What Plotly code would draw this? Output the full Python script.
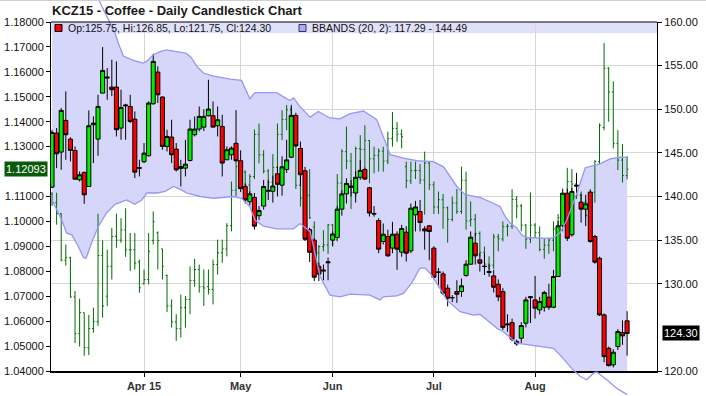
import plotly.graph_objects as go

# ---------------- data ----------------
month_ticks = [20, 41, 61, 83, 105]
month_labels = ["Apr 15", "May", "Jun", "Jul", "Aug"]

kc_open = [141.07, 147.27, 145.09, 148.72, 146.58, 145.28, 141.92, 142.76, 141.15, 148.22,
           146.58, 151.85, 153.70, 152.54, 152.54, 147.84, 150.50, 150.32, 148.87, 143.30,
           143.98, 144.67, 150.63, 154.26, 151.40, 145.74, 146.81, 145.43, 143.22, 143.25,
           144.13, 147.08, 147.73, 147.95, 149.25, 149.25, 148.11, 148.03, 144.21, 144.78,
           146.10, 144.10, 141.15, 139.40, 139.90, 137.80, 138.90, 140.60, 140.60, 142.60,
           141.30, 143.10, 144.50, 149.30, 145.50, 142.95, 136.20, 135.00, 132.00, 131.45,
           132.40, 135.00, 135.30, 138.55, 140.30, 141.20, 140.40, 142.20, 143.10, 141.00,
           138.05, 137.25, 134.84, 135.42, 134.08, 135.68, 133.62, 135.91, 133.77, 137.90,
           138.28, 136.29, 136.64, 134.08, 131.30, 131.13, 129.49, 128.42, 129.11, 129.11,
           130.94, 132.24, 134.65, 132.74, 131.97, 131.40, 130.90, 129.95, 129.10, 125.40,
           125.55, 123.37, 123.76, 125.48, 128.40, 128.15, 127.00, 127.31, 128.46, 127.31,
           130.83, 136.64, 140.38, 135.61, 141.30, 139.35, 138.55, 140.50, 135.42, 132.93,
           126.43, 122.60, 120.70, 122.80, 124.41, 125.75]
kc_high = [147.65, 147.84, 150.13, 152.05, 146.80, 145.74, 142.87, 142.87, 149.87, 149.18,
           151.66, 157.13, 154.72, 155.68, 155.49, 152.24, 150.63, 151.66, 149.75, 144.21,
           146.12, 150.90, 156.36, 154.91, 151.47, 147.65, 148.80, 146.12, 144.21, 146.50,
           148.80, 149.18, 150.32, 150.00, 153.38, 150.90, 150.32, 149.37, 145.74, 145.74,
           149.90, 145.30, 141.50, 140.60, 140.40, 138.90, 141.90, 141.90, 142.40, 143.50,
           144.60, 146.50, 150.50, 149.60, 146.30, 143.40, 136.40, 135.20, 132.40, 132.20,
           133.00, 136.00, 138.90, 140.70, 142.10, 141.90, 142.90, 144.20, 143.30, 141.10,
           138.90, 137.50, 136.90, 136.20, 137.10, 136.00, 136.75, 136.60, 139.20, 139.50,
           139.60, 136.60, 136.70, 134.30, 131.80, 131.40, 129.90, 128.70, 130.40, 130.60,
           132.70, 136.00, 135.80, 133.50, 133.50, 132.20, 131.60, 130.50, 129.50, 126.50,
           126.00, 123.60, 125.60, 128.50, 128.60, 130.90, 128.50, 129.20, 130.00, 131.60,
           137.20, 140.90, 140.90, 141.00, 142.70, 140.30, 140.20, 140.70, 135.60, 133.10,
           126.60, 122.80, 122.50, 124.80, 125.80, 126.85]
kc_low = [140.96, 143.25, 143.06, 144.21, 144.02, 141.92, 141.72, 139.16, 141.15, 143.83,
          144.67, 151.85, 151.09, 151.50, 146.88, 146.50, 146.50, 148.41, 142.11, 142.30,
          143.83, 144.59, 150.52, 150.71, 145.36, 145.16, 143.83, 142.87, 141.15, 142.30,
          144.02, 146.88, 147.46, 147.50, 149.18, 147.95, 146.88, 142.30, 144.21, 144.21,
          144.00, 140.50, 139.20, 139.00, 136.20, 137.30, 138.50, 139.60, 139.30, 140.00,
          140.10, 142.70, 144.40, 145.70, 141.20, 134.90, 132.50, 130.30, 130.30, 130.40,
          130.40, 134.30, 135.20, 137.80, 139.20, 140.00, 139.30, 141.90, 141.90, 137.70,
          137.70, 133.50, 134.50, 133.10, 133.50, 131.60, 133.10, 132.55, 133.50, 136.00,
          136.00, 133.90, 132.70, 130.60, 129.70, 128.70, 127.40, 127.90, 127.80, 128.50,
          130.80, 132.20, 132.20, 131.40, 131.00, 130.80, 129.00, 128.00, 124.70, 124.50,
          123.40, 122.90, 123.20, 125.00, 125.50, 126.00, 126.50, 126.80, 127.00, 127.20,
          130.80, 136.50, 134.90, 135.40, 140.00, 137.00, 136.60, 134.70, 132.30, 126.30,
          121.00, 120.50, 120.40, 122.40, 123.00, 121.75]
kc_close = [147.34, 144.90, 149.87, 147.08, 145.28, 141.99, 142.49, 140.19, 148.11, 148.41,
            150.32, 154.45, 153.60, 152.24, 147.65, 150.21, 150.40, 148.60, 142.79, 143.25,
            144.97, 150.71, 155.49, 151.66, 145.74, 146.88, 144.78, 143.06, 143.44, 143.71,
            147.73, 147.73, 149.18, 149.18, 150.02, 147.95, 148.80, 143.83, 145.36, 145.55,
            144.10, 140.90, 139.60, 140.30, 136.60, 138.40, 141.15, 140.70, 141.20, 141.40,
            143.40, 144.20, 149.30, 145.80, 142.50, 135.10, 133.60, 130.75, 131.10, 131.55,
            132.50, 135.70, 138.55, 140.30, 141.50, 141.05, 142.20, 143.00, 142.00, 138.10,
            138.00, 133.96, 135.68, 133.20, 135.68, 133.96, 136.33, 133.50, 138.66, 138.80,
            137.02, 136.06, 135.99, 130.75, 131.35, 128.92, 128.34, 128.40, 128.80, 129.76,
            132.24, 135.34, 133.20, 132.36, 132.00, 131.30, 129.60, 128.50, 125.00, 125.30,
            123.64, 123.11, 125.21, 128.15, 128.50, 127.20, 127.96, 128.99, 127.31, 130.83,
            136.64, 140.38, 135.22, 140.57, 141.20, 138.55, 139.16, 134.84, 132.47, 126.43,
            121.65, 120.62, 122.15, 124.52, 124.02, 124.30]

eur_open = [1.1110, 1.1075, 1.1031, 1.0844, 1.0854, 1.0697, 1.0550, 1.0634, 1.0494, 1.0570,
            1.0598, 1.0863, 1.0700, 1.0820, 1.0940, 1.0925, 1.0966, 1.0886, 1.0887, 1.0837,
            1.0750, 1.0767, 1.0924, 1.0955, 1.0890, 1.0783, 1.0661, 1.0597, 1.0570, 1.0654,
            1.0687, 1.0763, 1.0807, 1.0738, 1.0738, 1.0727, 1.0827, 1.0874, 1.0890, 1.0983,
            1.1125, 1.1220, 1.1198, 1.1146, 1.1180, 1.1349, 1.1267, 1.1202, 1.1157, 1.1217,
            1.1349, 1.1409, 1.1448, 1.1316, 1.1145, 1.1093, 1.1105, 1.0978, 1.0874, 1.0899,
            1.0906, 1.0986, 1.0926, 1.1154, 1.1280, 1.1242, 1.1116, 1.1292, 1.1289, 1.1325,
            1.1251, 1.1265, 1.1282, 1.1242, 1.1332, 1.1373, 1.1350, 1.1220, 1.1163, 1.1204,
            1.1204, 1.1166, 1.1234, 1.1147, 1.1058, 1.1087, 1.1055, 1.1008, 1.1074, 1.1040,
            1.1165, 1.1002, 1.1008, 1.0952, 1.0876, 1.0829, 1.0824, 1.0938, 1.0930, 1.0979,
            1.0981, 1.1088, 1.1062, 1.0985, 1.0929, 1.0985, 1.0955, 1.0888, 1.0905, 1.0925,
            1.0970, 1.1016, 1.1040, 1.1160, 1.1150, 1.1106, 1.1077, 1.1024, 1.1117, 1.1240,
            1.1377, 1.1615, 1.1519, 1.1313, 1.1246, 1.1184]
eur_high = [1.1118, 1.1115, 1.1033, 1.0907, 1.0858, 1.0721, 1.0690, 1.0634, 1.0625, 1.0654,
            1.1031, 1.0924, 1.0887, 1.0974, 1.1031, 1.1013, 1.1053, 1.0954, 1.0954, 1.0847,
            1.0807, 1.0954, 1.1040, 1.0960, 1.0890, 1.0787, 1.0687, 1.0628, 1.0707, 1.0701,
            1.0820, 1.0850, 1.0827, 1.0807, 1.0807, 1.0847, 1.0927, 1.0927, 1.0993, 1.1160,
            1.1260, 1.1230, 1.1205, 1.1190, 1.1369, 1.1393, 1.1286, 1.1210, 1.1270, 1.1393,
            1.1446, 1.1467, 1.1459, 1.1330, 1.1204, 1.1180, 1.1210, 1.1000, 1.0905, 1.0965,
            1.0990, 1.0990, 1.1190, 1.1290, 1.1380, 1.1275, 1.1300, 1.1346, 1.1386, 1.1326,
            1.1300, 1.1293, 1.1300, 1.1360, 1.1439, 1.1399, 1.1369, 1.1240, 1.1240, 1.1240,
            1.1230, 1.1280, 1.1240, 1.1160, 1.1120, 1.1110, 1.1060, 1.1100, 1.1130, 1.1220,
            1.1200, 1.1080, 1.1030, 1.0960, 1.0900, 1.0860, 1.0950, 1.0950, 1.1000, 1.0990,
            1.1129, 1.1102, 1.1070, 1.0990, 1.1116, 1.0993, 1.0980, 1.0930, 1.0935, 1.1000,
            1.1030, 1.1090, 1.1215, 1.1210, 1.1160, 1.1120, 1.1085, 1.1130, 1.1246, 1.1393,
            1.1715, 1.1619, 1.1562, 1.1366, 1.1310, 1.1262]
eur_low = [1.1062, 1.0987, 1.0840, 1.0823, 1.0694, 1.0512, 1.0498, 1.0461, 1.0464, 1.0554,
           1.0581, 1.0614, 1.0660, 1.0767, 1.0894, 1.0914, 1.0858, 1.0801, 1.0807, 1.0714,
           1.0747, 1.0747, 1.0907, 1.0807, 1.0767, 1.0637, 1.0574, 1.0521, 1.0534, 1.0574,
           1.0628, 1.0738, 1.0714, 1.0661, 1.0707, 1.0667, 1.0787, 1.0834, 1.0860, 1.0960,
           1.1100, 1.1140, 1.1110, 1.1100, 1.1170, 1.1233, 1.1193, 1.1130, 1.1120, 1.1200,
           1.1326, 1.1366, 1.1300, 1.1130, 1.1060, 1.1080, 1.1010, 1.0870, 1.0820, 1.0880,
           1.0870, 1.0900, 1.0920, 1.1100, 1.1210, 1.1050, 1.1100, 1.1186, 1.1200, 1.1153,
           1.1193, 1.1200, 1.1200, 1.1230, 1.1300, 1.1319, 1.1293, 1.1133, 1.1150, 1.1170,
           1.1150, 1.1027, 1.1126, 1.1030, 1.1030, 1.0970, 1.0915, 1.1000, 1.1030, 1.1030,
           1.0967, 1.0980, 1.0940, 1.0860, 1.0808, 1.0808, 1.0810, 1.0880, 1.0920, 1.0940,
           1.0970, 1.1013, 1.0960, 1.0890, 1.0913, 1.0934, 1.0880, 1.0850, 1.0870, 1.0880,
           1.0950, 1.0960, 1.1030, 1.1110, 1.1090, 1.1050, 1.1015, 1.1000, 1.1075, 1.1230,
           1.1366, 1.1400, 1.1293, 1.1206, 1.1156, 1.1169]
eur_close = [1.1075, 1.1031, 1.0844, 1.0854, 1.0697, 1.0550, 1.0634, 1.0494, 1.0570, 1.0598,
             1.0863, 1.0661, 1.0820, 1.0940, 1.0925, 1.0966, 1.0886, 1.0887, 1.0833, 1.0734,
             1.0767, 1.0880, 1.0999, 1.0923, 1.0820, 1.0661, 1.0597, 1.0570, 1.0654, 1.0687,
             1.0763, 1.0807, 1.0738, 1.0733, 1.0727, 1.0827, 1.0874, 1.0890, 1.0983, 1.1125,
             1.1220, 1.1198, 1.1146, 1.1180, 1.1349, 1.1267, 1.1202, 1.1157, 1.1217, 1.1349,
             1.1409, 1.1448, 1.1316, 1.1145, 1.1093, 1.1105, 1.1015, 1.0874, 1.0899, 1.0906,
             1.0986, 1.0926, 1.1154, 1.1280, 1.1242, 1.1116, 1.1292, 1.1289, 1.1325, 1.1251,
             1.1265, 1.1282, 1.1242, 1.1332, 1.1373, 1.1350, 1.1340, 1.1163, 1.1204, 1.1204,
             1.1166, 1.1234, 1.1147, 1.1058, 1.1087, 1.1055, 1.1008, 1.1074, 1.1040, 1.1165,
             1.1002, 1.1008, 1.0952, 1.0876, 1.0829, 1.0824, 1.0938, 1.0930, 1.0979, 1.0981,
             1.1088, 1.1062, 1.0985, 1.0929, 1.0985, 1.0955, 1.0888, 1.0905, 1.0925, 1.0970,
             1.1016, 1.1040, 1.1160, 1.1150, 1.1106, 1.1077, 1.1024, 1.1117, 1.1240, 1.1386,
             1.1615, 1.1519, 1.1313, 1.1246, 1.1184, 1.12093]

bb_upper_x = [0, 3, 6, 8, 10.1, 11.9, 13.7, 14.4, 15.5, 17.7, 19.8, 20.6, 22, 23.5, 24.9, 27.1,
              29.2, 30.3, 31.5, 32.9, 35.1, 38.7, 41.2, 43, 44.1, 48.8, 51.7, 52.5, 53.9, 56.1,
              57.9, 60.4, 62.6, 64.8, 67.7, 70.6, 72, 73.5, 76.4, 79.3, 82.9, 85.1, 88, 89.8,
              91, 93, 95.2, 97.4, 98.5, 99.6, 101, 102.1, 103.2, 108.3, 109.3, 110.4, 111.9,
              113.3, 114.1, 115.9, 117.7, 119.1, 121.3, 123.5, 125]
bb_upper = [171.0, 169.5, 167.5, 165.0, 162.6, 160.6, 158.7, 157.6, 156.1, 155.6, 155.3, 155.5,
            156.25, 156.6, 156.8, 156.6, 156.4, 155.9, 154.9, 154.15, 153.8, 153.45, 153.3,
            151.2, 151.9, 151.9, 151.0, 151.3, 150.3, 149.1, 149.75, 149.0, 148.9, 149.5,
            149.8, 148.8, 146.9, 144.8, 144.4, 144.1, 144.0, 143.4, 141.15, 140.2, 140.1,
            139.9, 139.4, 138.85, 137.7, 136.95, 136.4, 135.6, 135.3, 135.2, 135.4, 135.8,
            137.3, 139.2, 140.4, 143.3, 143.6, 143.75, 144.3, 144.5, 144.49]
bb_lower_x = [0, 2.1, 3.2, 4.3, 5.7, 6.8, 7.4, 8.6, 10.1, 11.8, 13.7, 16.2, 18, 19.5, 20.6,
              22.8, 24.6, 26.4, 27.8, 29.3, 32.2, 35.1, 39.4, 41.2, 43, 44.1, 45, 46, 48.8,
              52.5, 53.9, 56.1, 58.3, 60.4, 62.6, 64.8, 69.1, 70.6, 71.3, 72, 74.9, 76.4,
              78.2, 80, 81.1, 82.2, 83.6, 85.8, 88.7, 91.6, 93, 96.7, 98.1, 101, 106.1, 109,
              110.4, 111.9, 113.3, 114.8, 116.2, 117.7, 118.4, 120.6, 122.8, 125]
bb_lower = [139.6, 137.3, 135.8, 135.6, 134.3, 133.05, 132.9, 134.7, 136.6, 138.1, 139.1, 139.6,
            139.1, 139.6, 140.4, 140.4, 140.6, 141.15, 140.85, 140.4, 140.0, 139.8, 140.0,
            139.8, 138.85, 137.3, 136.95, 136.6, 136.3, 136.3, 136.9, 136.0, 130.8, 128.7,
            128.5, 128.8, 128.7, 128.35, 128.15, 128.5, 128.6, 128.9, 130.1, 131.8, 131.8,
            131.2, 130.1, 128.15, 126.8, 126.4, 126.5, 124.9, 124.5, 123.2, 122.8, 122.6,
            121.85, 120.9, 120.1, 119.4, 119.0, 119.75, 119.9, 119.0, 118.0, 117.29]
bb_period, bb_mult = 20, 2

# ---------------- layout constants ----------------
W, H = 706, 396
PL, PR, PT, PB = 51, 657, 22, 371
FONT = "Liberation Sans, Arial, sans-serif"
x_range = [-0.22, 131.5]
kc_range = [120, 160]
eur_range = [1.04, 1.18]

per_px = (kc_range[1] - kc_range[0]) / (PB - PT)
full_range = [kc_range[0] - (H - PB) * per_px, kc_range[1] + PT * per_px]

bars = list(range(len(kc_close)))

fig = go.Figure()

# Bollinger fill (main coffee axis, drawn first)
fig.add_trace(go.Scatter(x=bb_upper_x, y=bb_upper, mode="lines", line=dict(width=0),
                         hoverinfo="skip", xaxis="x", yaxis="y"))
fig.add_trace(go.Scatter(x=bb_lower_x, y=bb_lower, mode="lines", line=dict(width=0),
                         fill="tonexty", fillcolor="rgb(214,214,250)",
                         hoverinfo="skip", xaxis="x", yaxis="y"))

# EUR/USD OHLC bars on the left axis
fig.add_trace(go.Ohlc(
    x=bars, open=eur_open, high=eur_high, low=eur_low, close=eur_close,
    increasing=dict(line=dict(color="#006a00", width=1)),
    decreasing=dict(line=dict(color="#006a00", width=1)),
    tickwidth=0.3, hoverinfo="skip", xaxis="x", yaxis="y2"))

# Coffee candles (overlay copy of the coffee axis so they sit above the fill)
fig.add_trace(go.Candlestick(
    x=bars, open=kc_open, high=kc_high, low=kc_low, close=kc_close,
    increasing=dict(line=dict(color="black", width=1), fillcolor="#00ee00"),
    decreasing=dict(line=dict(color="black", width=1), fillcolor="#ff0000"),
    whiskerwidth=0, hoverinfo="skip", xaxis="x", yaxis="y3"))

# Band outlines (full-figure axis, so they are not clipped to the frame)
for bx, by in ((bb_upper_x, bb_upper), (bb_lower_x, bb_lower)):
    fig.add_trace(go.Scatter(x=bx, y=by, mode="lines",
                             line=dict(color="rgb(150,150,245)", width=1.3),
                             hoverinfo="skip", xaxis="x2", yaxis="y4"))

dom_x = [PL / W, PR / W]
dom_y = [1 - PB / H, 1 - PT / H]

kc_ticks = [v for v in range(kc_range[0], kc_range[1] + 1, 5) if abs(v - kc_close[-1]) > 1.2]
eur_ticks = [round(eur_range[0] + 0.01 * k, 2) for k in range(15)]
eur_ticks = [v for v in eur_ticks if abs(v - eur_close[-1]) > 0.004]

tickfont = dict(family=FONT, size=11, color="#111")

fig.update_layout(
    template="none",
    width=W, height=H, margin=dict(l=0, r=0, t=0, b=0, autoexpand=False),
    paper_bgcolor="white", plot_bgcolor="rgba(0,0,0,0)",
    showlegend=False, boxgap=0.12, boxgroupgap=0,
    font=dict(family=FONT, size=11, color="#111"),
    xaxis=dict(domain=dom_x, range=x_range, tickmode="array", tickvals=month_ticks,
               ticktext=["<b>%s</b>" % t for t in month_labels],
               tickfont=dict(family=FONT, size=11, color="#333"),
               ticks="outside", ticklen=4, tickcolor="black",
               showgrid=True, gridcolor="#d6d6d6", gridwidth=1,
               showline=True, linecolor="black", linewidth=2, automargin=False,
               rangeslider=dict(visible=False), zeroline=False, fixedrange=True),
    yaxis=dict(domain=dom_y, range=kc_range, side="right", tickmode="array",
               tickvals=kc_ticks, ticktext=["%.2f" % v for v in kc_ticks],
               tickfont=tickfont, ticks="outside", ticklen=4, tickcolor="black",
               showgrid=True, gridcolor="#d6d6d6", gridwidth=1, automargin=False,
               showline=True, linecolor="black", linewidth=1, zeroline=False,
               fixedrange=True),
    yaxis2=dict(overlaying="y", range=eur_range, side="left", tickmode="array",
                tickvals=eur_ticks, ticktext=["%.5f" % v for v in eur_ticks],
                tickfont=tickfont, ticks="outside", ticklen=4, tickcolor="black",
                showgrid=False, showline=True, linecolor="black", linewidth=1,
                automargin=False, zeroline=False, fixedrange=True),
    yaxis3=dict(overlaying="y", range=kc_range, visible=False, showgrid=False,
                zeroline=False, fixedrange=True),
    xaxis2=dict(domain=dom_x, range=x_range, anchor="y4", visible=False, showgrid=False,
                zeroline=False, fixedrange=True),
    yaxis4=dict(domain=[0, 1], range=full_range, anchor="x2", visible=False, showgrid=False,
                zeroline=False, fixedrange=True),
)

# legend strip and frame
shapes = [
    dict(type="rect", xref="paper", yref="paper", x0=PL / W, x1=PR / W,
         y0=1 - 33.3 / H, y1=1 - PT / H, fillcolor="rgb(224,224,250)",
         line=dict(width=0), layer="below"),
    dict(type="line", xref="paper", yref="paper", x0=PL / W, x1=PR / W,
         y0=1 - PT / H, y1=1 - PT / H, line=dict(color="black", width=1)),
    dict(type="line", xref="paper", yref="paper", x0=0, x1=1, y0=1 - 0.5 / H, y1=1 - 0.5 / H,
         line=dict(color="#cfcfcf", width=1)),
    dict(type="rect", xref="paper", yref="paper", x0=55 / W, x1=62 / W,
         y0=1 - 31.5 / H, y1=1 - 24.5 / H, fillcolor="#ff0000",
         line=dict(color="black", width=1)),
    dict(type="rect", xref="paper", yref="paper", x0=299 / W, x1=306 / W,
         y0=1 - 31.5 / H, y1=1 - 24.5 / H, fillcolor="rgb(170,170,245)",
         line=dict(color="#333366", width=1)),
]
fig.update_layout(shapes=shapes)

legend_kc = "Op:%.2f, Hi:%.2f, Lo:%.2f, Cl:%.2f" % (kc_open[-1], kc_high[-1], kc_low[-1], kc_close[-1])
legend_bb = "BBANDS (%d, %d): %.2f - %.2f" % (bb_period, bb_mult, bb_lower[-1], bb_upper[-1])

annotations = [
    dict(text="<b>KCZ15 - Coffee - Daily Candlestick Chart</b>", xref="paper", yref="paper",
         x=50 / W, y=1 - 10.5 / H, xanchor="left", yanchor="middle", showarrow=False,
         font=dict(family=FONT, size=13, color="#1a1a1a")),
    dict(text=legend_kc, xref="paper", yref="paper", x=66 / W, y=1 - 28 / H,
         xanchor="left", yanchor="middle", showarrow=False,
         font=dict(family=FONT, size=10.5, color="#111")),
    dict(text=legend_bb, xref="paper", yref="paper", x=310 / W, y=1 - 28 / H,
         xanchor="left", yanchor="middle", showarrow=False,
         font=dict(family=FONT, size=10.5, color="#111")),
    dict(text="%.5f" % eur_close[-1], xref="paper", yref="y2", x=48 / W, y=eur_close[-1],
         xanchor="right", yanchor="middle", showarrow=False, bgcolor="#0b5a0b",
         borderpad=1, font=dict(family=FONT, size=11, color="white")),
    dict(text="%.2f" % kc_close[-1], xref="paper", yref="y", x=662 / W, y=kc_close[-1],
         xanchor="left", yanchor="middle", showarrow=False, bgcolor="black",
         borderpad=1, font=dict(family=FONT, size=11, color="white")),
]
fig.update_layout(annotations=annotations)

fig.write_html("out.html", config={"staticPlot": True},
               post_script="document.body.style.margin='0px';document.body.style.overflow='hidden';")
